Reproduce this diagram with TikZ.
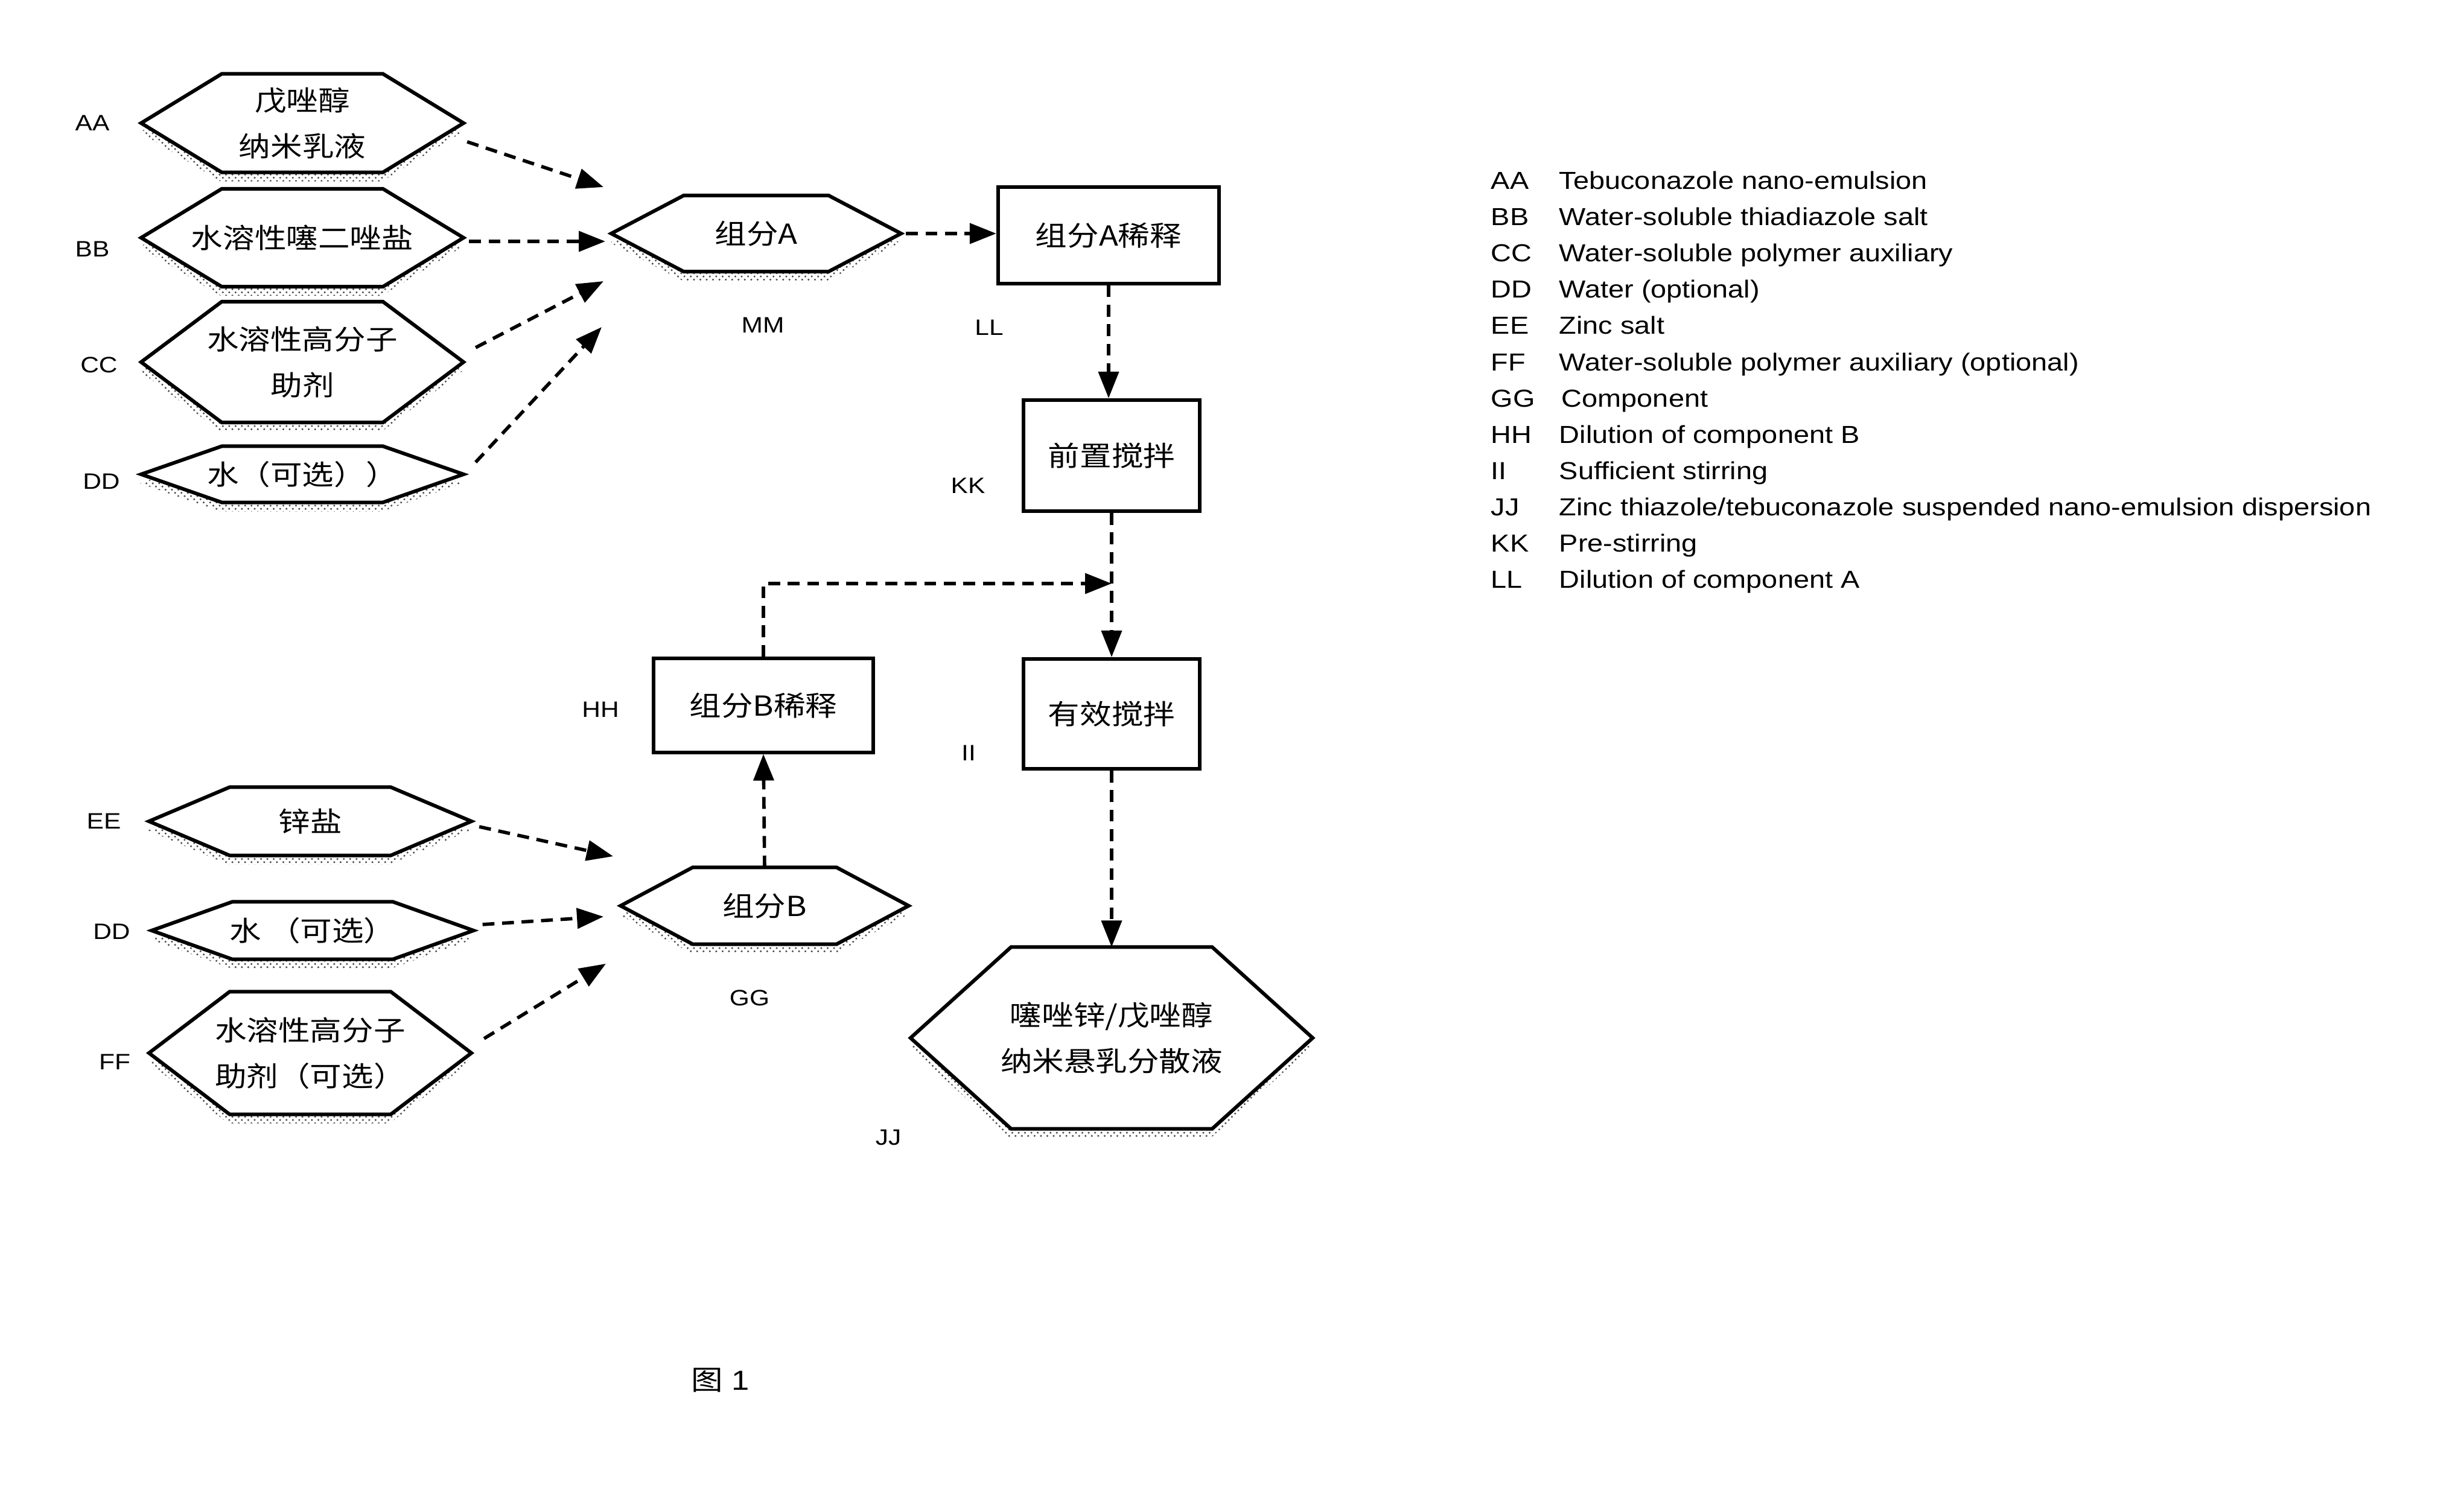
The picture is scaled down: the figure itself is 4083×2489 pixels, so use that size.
\documentclass[tikz,border=0pt]{standalone}
\usepackage{fontspec}
\setmainfont{Liberation Sans}[FakeStretch=1.15]
\newfontfamily\cjk{Noto Sans CJK SC}[FakeStretch=1.15]
\usetikzlibrary{arrows.meta,shadows,patterns}

% hexagon whose flat top is half as wide as the node
\makeatletter
\newdimen\hxL \newdimen\hxR \newdimen\hxT \newdimen\hxB
\newdimen\hxM \newdimen\hxC \newdimen\hxP \newdimen\hxQ
\pgfdeclareshape{hexa}{%
  \inheritsavedanchors[from=rectangle]%
  \inheritanchorborder[from=rectangle]%
  \inheritanchor[from=rectangle]{center}%
  \inheritanchor[from=rectangle]{north}%
  \inheritanchor[from=rectangle]{south}%
  \inheritanchor[from=rectangle]{east}%
  \inheritanchor[from=rectangle]{west}%
  \inheritanchor[from=rectangle]{north east}%
  \inheritanchor[from=rectangle]{north west}%
  \inheritanchor[from=rectangle]{south east}%
  \inheritanchor[from=rectangle]{south west}%
  \backgroundpath{%
    \southwest \hxL=\pgf@x \hxB=\pgf@y
    \northeast \hxR=\pgf@x \hxT=\pgf@y
    \hxC=\hxR \advance\hxC by-\hxL \hxC=.25\hxC
    \hxM=\hxB \advance\hxM by\hxT \hxM=.5\hxM
    \hxP=\hxL \advance\hxP by\hxC
    \hxQ=\hxR \advance\hxQ by-\hxC
    \pgfpathmoveto{\pgfqpoint{\hxL}{\hxM}}%
    \pgfpathlineto{\pgfqpoint{\hxP}{\hxT}}%
    \pgfpathlineto{\pgfqpoint{\hxQ}{\hxT}}%
    \pgfpathlineto{\pgfqpoint{\hxR}{\hxM}}%
    \pgfpathlineto{\pgfqpoint{\hxQ}{\hxB}}%
    \pgfpathlineto{\pgfqpoint{\hxP}{\hxB}}%
    \pgfpathclose
  }%
}
\makeatother

\begin{document}
\begin{tikzpicture}[x=0.01cm, y=-0.01cm, hexbox/.style={shape=hexa, draw, line width=1.7pt, fill=white, outer sep=0pt, inner sep=0pt, align=center, font=\cjk\fontsize{13pt}{21.6pt}\selectfont, drop shadow={shadow xshift=-0.02cm, shadow yshift=-0.15cm, opacity=1, pattern=crosshatch dots, pattern color=black!70}}, stepbox/.style={rectangle, draw, line width=1.7pt, fill=white, inner sep=0pt, align=center, font=\cjk\fontsize{13pt}{21.6pt}\selectfont}, tag/.style={font=\fontsize{10.5pt}{12pt}\selectfont}, code/.style={anchor=base west, inner sep=0pt, font=\fontsize{11.6pt}{13pt}\selectfont}, arr/.style={-{Triangle[length=12.5pt,width=9.5pt]}, line width=1.6pt, dash pattern=on 5.6pt off 3.6pt}]
\useasboundingbox (0,0) rectangle (4083,2489);
% inputs of component A
\node[hexbox, minimum width=5.34cm, minimum height=1.63cm] (aa) at (501,204) {戊唑醇\\纳米乳液};
\node[hexbox, minimum width=5.34cm, minimum height=1.62cm] (bb) at (501,394) {水溶性噻二唑盐};
\node[hexbox, minimum width=5.34cm, minimum height=2.00cm] (cc) at (501,600) {水溶性高分子\\助剂};
\node[hexbox, minimum width=5.34cm, minimum height=0.93cm] (dd) at (501,786) {水（可选））};
\node[tag] (aatag) at (153,204) {AA};
\node[tag] (bbtag) at (153,413) {BB};
\node[tag] (cctag) at (164,605) {CC};
\node[tag] (ddtag) at (168,798) {DD};
% inputs of component B
\node[hexbox, minimum width=5.34cm, minimum height=1.13cm] (ee) at (514,1361) {锌盐};
\node[hexbox, minimum width=5.33cm, minimum height=0.95cm] (water) at (518,1542) {水 （可选）};
\node[hexbox, minimum width=5.34cm, minimum height=2.03cm] (ff) at (514,1745) {水溶性高分子\\助剂（可选）};
\node[tag] (eetag) at (172,1361) {EE};
\node[tag] (watertag) at (185,1544) {DD};
\node[tag] (fftag) at (190,1760) {FF};
% main line
\node[hexbox, minimum width=4.80cm, minimum height=1.26cm] (compa) at (1253,387) {组分A};
\node[stepbox, minimum width=3.66cm, minimum height=1.59cm] (dila) at (1837,390) {组分A稀释};
\node[stepbox, minimum width=2.92cm, minimum height=1.84cm] (pre) at (1842,755) {前置搅拌};
\node[stepbox, minimum width=3.63cm, minimum height=1.55cm] (dilb) at (1265,1169) {组分B稀释};
\node[stepbox, minimum width=2.92cm, minimum height=1.82cm] (stir) at (1842,1183) {有效搅拌};
\node[hexbox, minimum width=4.77cm, minimum height=1.27cm] (compb) at (1267,1501) {组分B};
\node[hexbox, minimum width=6.66cm, minimum height=3.01cm] (disp) at (1842,1720) {噻唑锌/戊唑醇\\纳米悬乳分散液};
\node[tag] (mmtag) at (1264,539) {MM};
\node[tag] (lltag) at (1639,543) {LL};
\node[tag] (kktag) at (1604,805) {KK};
\node[tag] (hhtag) at (995,1176) {HH};
\node[tag] (iitag) at (1605,1248) {II};
\node[tag] (ggtag) at (1242,1654) {GG};
\node[tag] (jjtag) at (1472,1885) {JJ};
\node[font=\fontsize{13pt}{15pt}\selectfont] (fig) at (1194,2287) {{\cjk 图} 1};
% free arrow ends
\coordinate (ta) at (1000,310);
\coordinate (tb) at (1003,400);
\coordinate (tc) at (1000,466);
\coordinate (td) at (997,542);
\coordinate (te) at (1016,1419);
\coordinate (tw) at (1000,1519);
\coordinate (tf) at (1004,1597);
\coordinate (join) at (1842,967);
\draw[arr] ([shift={(6,31)}]aa.east) -- (ta); \draw[arr] ([shift={(9,6)}]bb.east) -- (tb);
\draw[arr] ([shift={(20,-24)}]cc.east) -- (tc); \draw[arr] ([shift={(20,-20)}]dd.east) -- (td);
\draw[arr] ([shift={(13,9)}]ee.east) -- (te); \draw[arr] ([shift={(15,-10)}]water.east) -- (tw); \draw[arr] ([shift={(21,-24)}]ff.east) -- (tf);
\draw[arr] ([xshift=0.08cm]compa.east) -- (compa.east -| dila.west); \draw[arr] (dila.south) -- (dila.south |- pre.north);
\draw[arr] (pre.south) -- (stir.north); \draw[arr] (dilb.north) |- (join); \draw[arr] (compb.north) -- (dilb.south); \draw[arr] (stir.south) -- (disp.north);
% legend
\node[code] (keyaa) at (2470,314) {AA}; \node[code] (txtaa) at (2583,314) {Tebuconazole nano-emulsion};
\node[code] (keybb) at (2470,374) {BB}; \node[code] (txtbb) at (2583,374) {Water-soluble thiadiazole salt};
\node[code] (keycc) at (2470,434) {CC}; \node[code] (txtcc) at (2583,434) {Water-soluble polymer auxiliary};
\node[code] (keydd) at (2470,494) {DD}; \node[code] (txtdd) at (2583,494) {Water (optional)};
\node[code] (keyee) at (2470,554) {EE}; \node[code] (txtee) at (2583,554) {Zinc salt};
\node[code] (keyff) at (2470,615) {FF}; \node[code] (txtff) at (2583,615) {Water-soluble polymer auxiliary (optional)};
\node[code] (keygg) at (2470,675) {GG}; \node[code] (txtgg) at (2587,675) {Component};
\node[code] (keyhh) at (2470,735) {HH}; \node[code] (txthh) at (2583,735) {Dilution of component B};
\node[code] (keyii) at (2470,795) {II}; \node[code] (txtii) at (2583,795) {Sufficient stirring};
\node[code] (keyjj) at (2470,855) {JJ}; \node[code] (txtjj) at (2583,855) {Zinc thiazole/tebuconazole suspended nano-emulsion dispersion};
\node[code] (keykk) at (2470,915) {KK}; \node[code] (txtkk) at (2583,915) {Pre-stirring};
\node[code] (keyll) at (2470,975) {LL}; \node[code] (txtll) at (2583,975) {Dilution of component A};
\end{tikzpicture}
\end{document}
